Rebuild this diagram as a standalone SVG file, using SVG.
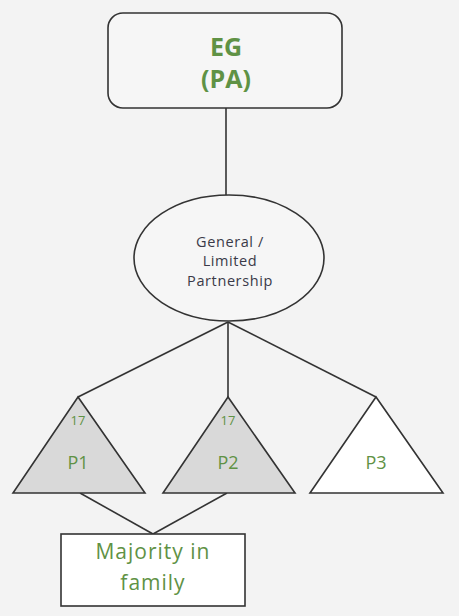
<svg xmlns="http://www.w3.org/2000/svg" width="459" height="616" viewBox="0 0 459 616">
<style>
.s{stroke:#333;stroke-width:1.6;}
.g{fill:#5f9245;font-family:"Open Sans","Liberation Sans",sans-serif;text-anchor:middle;}
.d{fill:#3a3a48;font-family:"Open Sans","Liberation Sans",sans-serif;text-anchor:middle;font-size:14.5px;letter-spacing:0.6px;}
</style>
<rect x="0" y="0" width="459" height="616" fill="#f3f3f3"/>
<g id="connectors" class="s" fill="none">
<line x1="226" y1="108" x2="226" y2="195"/>
<line x1="228" y1="322" x2="78" y2="397"/>
<line x1="228" y1="322" x2="228" y2="397"/>
<line x1="228" y1="322" x2="376" y2="397"/>
<line x1="80" y1="493" x2="153" y2="534"/>
<line x1="227" y1="493" x2="153" y2="534"/>
</g>
<g id="eg">
<rect x="108" y="13" width="234" height="95" rx="15" fill="#f6f6f6" class="s"/>
<text x="226" y="56" class="g" font-size="25" font-weight="bold">EG</text>
<text x="226" y="88" class="g" font-size="25" font-weight="bold">(PA)</text>
</g>
<g id="partnership">
<ellipse cx="229" cy="258" rx="95" ry="63" fill="#f6f6f6" class="s"/>
<text x="230" y="247" class="d">General /</text>
<text x="230" y="266" class="d">Limited</text>
<text x="230" y="286" class="d">Partnership</text>
</g>
<g id="p1">
<polygon points="78,397 13,493 145,493" fill="#d9d9d9" class="s"/>
<text x="78" y="425" class="g" font-size="13">17</text>
<text x="78" y="469" class="g" font-size="18">P1</text>
</g>
<g id="p2">
<polygon points="228,397 163,493 295,493" fill="#d9d9d9" class="s"/>
<text x="228" y="425" class="g" font-size="13">17</text>
<text x="228" y="469" class="g" font-size="18">P2</text>
</g>
<g id="p3">
<polygon points="376,397 310,493 443,493" fill="#ffffff" class="s"/>
<text x="376" y="469" class="g" font-size="18">P3</text>
</g>
<g id="majority">
<rect x="61" y="534" width="184" height="72" fill="#ffffff" class="s"/>
<text x="153" y="559" class="g" font-size="21" letter-spacing="1">Majority in</text>
<text x="153" y="590" class="g" font-size="21" letter-spacing="1">family</text>
</g>
</svg>
